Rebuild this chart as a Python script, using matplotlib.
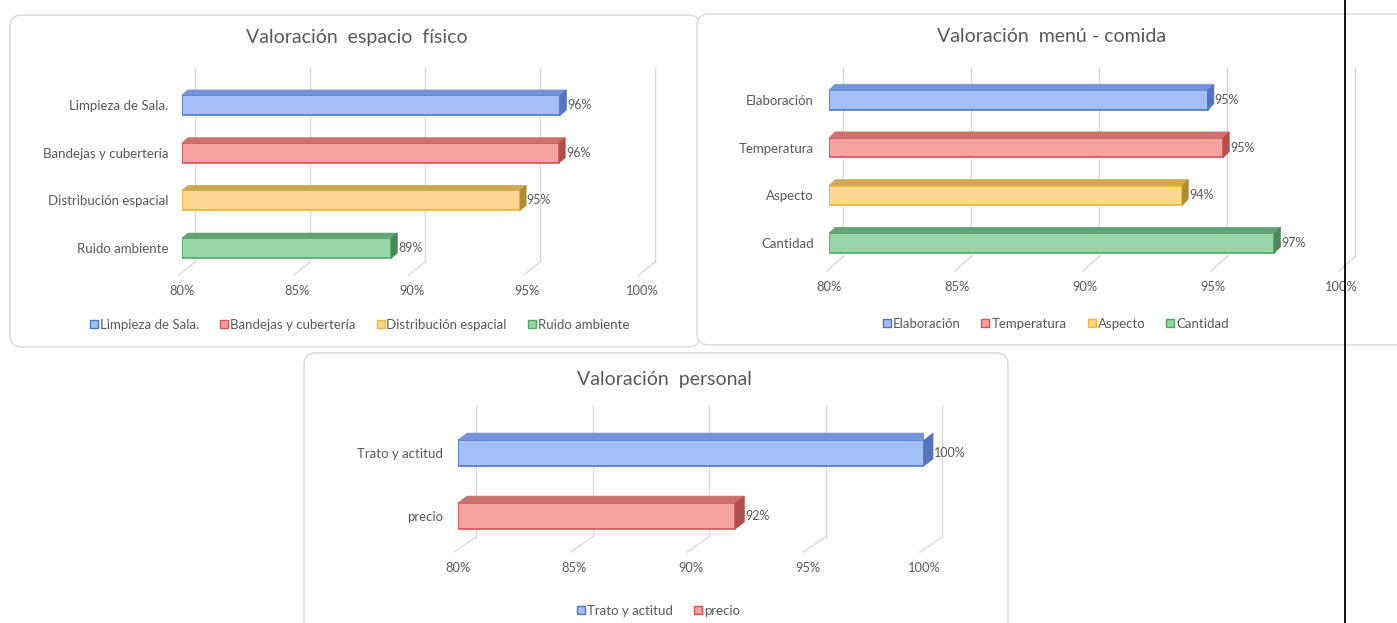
import matplotlib.pyplot as plt
from matplotlib.patches import FancyBboxPatch, Polygon
from matplotlib.lines import Line2D

plt.rcParams['font.family'] = ['Lato', 'DejaVu Sans']

W, H = 1397, 623
GREY = '#595959'
GRID = '#d9d9d9'

# data
cats1 = ['Limpieza de Sala.', 'Bandejas y cubertería', 'Distribución espacial', 'Ruido ambiente']
vals1 = [96.45, 96.4, 94.7, 89.1]
cats2 = ['Elaboración', 'Temperatura', 'Aspecto', 'Cantidad']
vals2 = [94.8, 95.4, 93.8, 97.4]
cats3 = ['Trato y actitud', 'precio']
vals3 = [100.0, 91.9]
ticks = [80, 85, 90, 95, 100]
tick_labels = ['80%', '85%', '90%', '95%', '100%']
titles = ['Valoración  espacio  físico', 'Valoración  menú - comida', 'Valoración  personal']

# front, top, side, edge
palette = [
    ('#a3bff6', '#7394d8', '#5674bd', '#4a76d6'),
    ('#f5a3a0', '#cc716d', '#b0504c', '#d9534f'),
    ('#fdd792', '#cfa852', '#b08a34', '#f0b528'),
    ('#97d4a6', '#65a274', '#4b8759', '#4fa866'),
]

fig = plt.figure(figsize=(W / 100, H / 100), dpi=100)
fig.patch.set_facecolor('white')


def box(x0, y0, x1, y1):
    p = FancyBboxPatch((x0 / 100, (H - y1) / 100), (x1 - x0) / 100, (y1 - y0) / 100,
                       boxstyle='round,pad=0,rounding_size=0.12',
                       transform=fig.dpi_scale_trans, facecolor='white',
                       edgecolor=GRID, lw=1.0, zorder=0)
    fig.add_artist(p)


def panel(cats, vals, title, g):
    n = len(cats)
    x80, ppx = g['x80'], g['ppx']
    c0, s = g['c0'], g['s']
    top, bot = g['top'], g['bot']
    ax = fig.add_axes([x80 / W, 1 - bot / H, 20 * ppx / W, (bot - top) / H])
    ax.set_xlim(80, 100)
    ax.set_ylim((bot - c0) / s, (top - c0) / s)
    for sp in ax.spines.values():
        sp.set_visible(False)
    ax.patch.set_alpha(0)

    # perspective grid
    gb = g['gback'] / ppx
    gf = g['gfront'] / ppx
    yb = (g['bback'] - c0) / s
    ytop, ybot = ax.get_ylim()[1], ax.get_ylim()[0]
    for t in ticks:
        ax.plot([t + gb, t + gb], [ytop, yb], color=GRID, lw=1, clip_on=False, zorder=1)
        ax.plot([t + gf, t + gb], [ybot, yb], color=GRID, lw=1, clip_on=False, zorder=1)

    bh = g['bh']
    ddx = g['depth'][0] / ppx
    ddy = g['depth'][1] / s
    for i, (v, col) in enumerate(zip(vals, palette)):
        front, topc, side, edge = col
        ax.barh(i, v - 80, left=80, height=bh, color=front, edgecolor=edge, lw=1.2, zorder=3)
        y0 = i - bh / 2
        y1 = i + bh / 2
        ax.add_patch(Polygon([(80, y0), (v, y0), (v + ddx, y0 - ddy), (80 + ddx, y0 - ddy)],
                             closed=True, facecolor=topc, edgecolor=topc, lw=0.5, zorder=3))
        ax.add_patch(Polygon([(v, y0), (v + ddx, y0 - ddy), (v + ddx, y1 - ddy), (v, y1)],
                             closed=True, facecolor=side, edgecolor=side, lw=0.5, zorder=3,
                             clip_on=False))
        ax.text(v + ddx + 0.03, i, f'{round(v)}%', va='center', ha='left',
                fontsize=9, color=GREY, clip_on=False)

    ax.set_xticks(ticks, tick_labels)
    ax.set_yticks(range(n), cats)
    ax.tick_params(axis='x', length=0, pad=g['xpad'], labelsize=9.3, labelcolor=GREY)
    ax.tick_params(axis='y', length=0, pad=g['ypad'], labelsize=9.5, labelcolor=GREY)

    fig.text(g['title'][0] / W, 1 - g['title'][1] / H, title, ha='center', va='center',
             fontsize=14, color=GREY)
    handles = [Line2D([], [], marker='s', ls='none', markersize=6, markerfacecolor=palette[i][0],
                      markeredgecolor=palette[i][3], label=c) for i, c in enumerate(cats)]
    fig.legend(handles=handles, loc='center', ncol=n, frameon=False, fontsize=9.5,
               bbox_to_anchor=(g['leg'][0] / W, 1 - g['leg'][1] / H),
               handletextpad=0.05, columnspacing=1.5, handlelength=0.8, labelcolor=GREY)


box(10, 15, 700, 347)
box(697, 14, 1420, 345)
box(304, 353, 1008, 640)

panel(cats1, vals1, titles[0], dict(x80=182, ppx=23.0, c0=105, s=47.7, top=68, bot=275,
                                    bback=262, gback=13, gfront=-3, bh=0.42, depth=(6, 5),
                                    xpad=7, ypad=10, title=(357, 37), leg=(359, 325)))
panel(cats2, vals2, titles[1], dict(x80=829, ppx=25.6, c0=100, s=47.7, top=67, bot=271,
                                    bback=257, gback=14, gfront=-2, bh=0.41, depth=(6, 6),
                                    xpad=7, ypad=11, title=(1052, 37), leg=(1055, 324)))
panel(cats3, vals3, titles[2], dict(x80=458, ppx=23.3, c0=453, s=63, top=405, bot=552,
                                    bback=537, gback=18, gfront=-4, bh=0.41, depth=(9, 7),
                                    xpad=7, ypad=11, title=(664, 379), leg=(658, 611)))

fig.add_artist(Line2D([1345 / W, 1345 / W], [0, 1], color='black', lw=1.3))

fig.savefig('out.png', dpi=100, facecolor='white')
